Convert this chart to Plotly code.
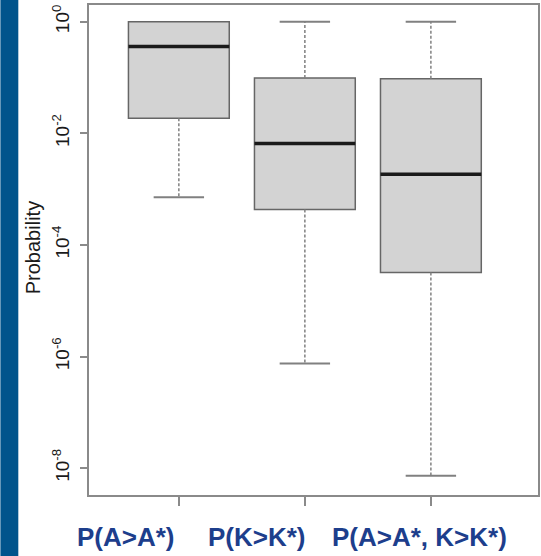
import numpy as np
import plotly.graph_objects as go

# Summary statistics of each probability distribution (log-scale box plot)
categories = ["P(A>A*)", "P(K>K*)", "P(A>A*, K>K*)"]
positions = [1, 2, 3]
lower_whisker = [7.2e-4, 7.5e-7, 7.3e-9]
q1 = [1.86e-2, 4.3e-4, 3.2e-5]
median = [0.36, 6.6e-3, 1.86e-3]
q3 = [1.0, 0.098, 0.095]
upper_whisker = [1.0, 1.0, 1.0]

tick_exponents = [0, -2, -4, -6, -8]

box_width = 0.8
cap_width = 0.4
box_line = "#666666"
whisker_color = "#808080"
label_blue = "#1d3e8c"
stripe_blue = "#00548c"

W, H = 541, 556
L, R, T, B = 89, 1, 5, 61
plot_w = W - L - R
plot_h = H - T - B

fig = go.Figure()

for i, pos in enumerate(positions):
    # box body (quartiles only; whiskers are drawn separately as dashed lines)
    fig.add_trace(go.Box(
        x=[pos], q1=[q1[i]], median=[median[i]], q3=[q3[i]],
        lowerfence=[q1[i]], upperfence=[q3[i]],
        width=box_width, whiskerwidth=0,
        fillcolor="#d3d3d3", line=dict(color=box_line, width=1.5),
        boxpoints=False, hoverinfo="skip", showlegend=False,
    ))
    # dashed whiskers
    for end, start in ((lower_whisker[i], q1[i]), (upper_whisker[i], q3[i])):
        if end != start:
            fig.add_trace(go.Scatter(
                x=[pos, pos], y=[start, end], mode="lines",
                line=dict(color=whisker_color, width=1.5, dash="3px,2px"),
                hoverinfo="skip", showlegend=False,
            ))
            fig.add_trace(go.Scatter(
                x=[pos - cap_width / 2, pos + cap_width / 2], y=[end, end],
                mode="lines", line=dict(color=whisker_color, width=2),
                hoverinfo="skip", showlegend=False,
            ))
    # thick median bar
    fig.add_trace(go.Scatter(
        x=[pos - box_width / 2, pos + box_width / 2], y=[median[i], median[i]],
        mode="lines", line=dict(color="#1a1a1a", width=3.5),
        hoverinfo="skip", showlegend=False,
    ))

axis_line = dict(showline=True, linecolor="#8a8a8a", linewidth=1.5, mirror=True,
                 showgrid=False, zeroline=False, ticks="outside",
                 tickcolor="#8a8a8a", tickwidth=1.5)

fig.update_xaxes(range=[0.287, 3.85], tickvals=positions, showticklabels=False,
                 ticklen=9, **axis_line)
fig.update_yaxes(type="log", range=[-8.48, 0.30],
                 tickvals=[10.0 ** e for e in tick_exponents],
                 ticktext=[f"10<sup>{e}</sup>" for e in tick_exponents],
                 tickangle=-90, ticklen=7, ticklabelstandoff=4,
                 tickfont=dict(family="Liberation Sans, Arial", size=19, color="#1a1a1a"),
                 **axis_line)

# category labels under the axis
label_centers_px = [126, 258, 421]
for text, cx in zip(categories, label_centers_px):
    fig.add_annotation(text=f"<b>{text}</b>", xref="paper", yref="paper",
                       x=(cx - L) / plot_w, y=(T + plot_h - 537) / plot_h,
                       xanchor="center", yanchor="middle", showarrow=False,
                       font=dict(family="Liberation Sans, Arial", size=26, color=label_blue))

# y-axis title
fig.add_annotation(text="Probability", xref="paper", yref="paper",
                   x=(33 - L) / plot_w, y=(T + plot_h - 248) / plot_h,
                   xanchor="center", yanchor="middle", textangle=-90, showarrow=False,
                   font=dict(family="Liberation Sans, Arial", size=20, color="#1a1a1a"))

# blue stripe along the left edge
fig.add_shape(type="rect", xref="paper", yref="paper",
              x0=-L / plot_w, x1=(18 - L) / plot_w,
              y0=-(B + 2) / plot_h, y1=1 + (T + 2) / plot_h,
              fillcolor=stripe_blue, line_width=0, layer="below")

fig.update_layout(width=W, height=H, margin=dict(l=L, r=R, t=T, b=B),
                  plot_bgcolor="white", paper_bgcolor="white")

fig.write_html("out.html")
